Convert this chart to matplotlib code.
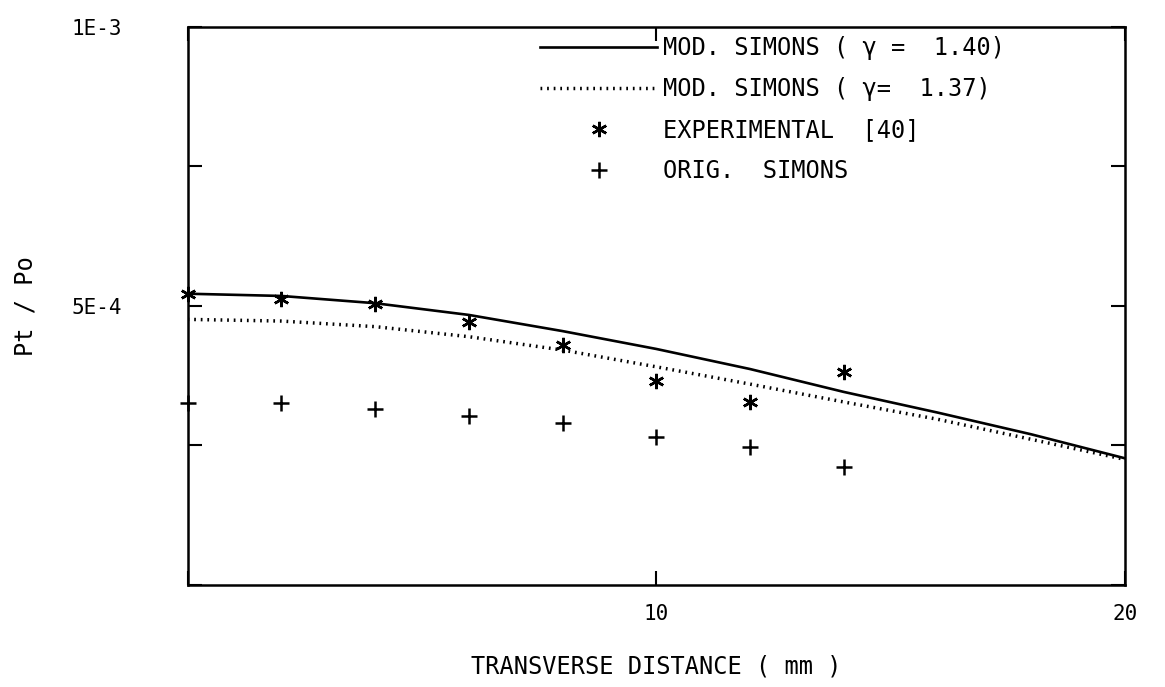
import numpy as np
import matplotlib
matplotlib.use("Agg")
import matplotlib.pyplot as plt

# distancia transversal (mm)
x_curva = [0, 2, 4, 6, 8, 10, 12, 14, 16, 18, 20]
mod_140 = [5.22e-4, 5.18e-4, 5.05e-4, 4.84e-4, 4.55e-4, 4.23e-4, 3.87e-4, 3.46e-4, 3.09e-4, 2.70e-4, 2.27e-4]
mod_137 = [4.76e-4, 4.73e-4, 4.63e-4, 4.45e-4, 4.21e-4, 3.91e-4, 3.60e-4, 3.28e-4, 2.97e-4, 2.61e-4, 2.25e-4]

x_pontos = [0, 2, 4, 6, 8, 10, 12, 14]
experimental = [5.22e-4, 5.12e-4, 5.03e-4, 4.72e-4, 4.30e-4, 3.66e-4, 3.28e-4, 3.82e-4]
orig_simons = [3.27e-4, 3.26e-4, 3.15e-4, 3.03e-4, 2.90e-4, 2.65e-4, 2.48e-4, 2.11e-4]

xticks = [0, 10, 20]
xticklabels = ['', '10', '20']
yticks = [0, 2.5e-4, 5e-4, 7.5e-4, 1e-3]
yticklabels = ['', '', '5E-4', '', '1E-3']

fonte = 'DejaVu Sans Mono'
plt.rcParams['font.family'] = fonte

fig = plt.figure(figsize=(11.65, 6.87), dpi=100)
ax = fig.add_axes([0.161, 0.1485, 0.8047, 0.8122])

ax.plot(x_curva, mod_140, color='black', linewidth=1.9,
        label='MOD. SIMONS ( \u03b3 =  1.40)')
ax.plot(x_curva, mod_137, color='black', linewidth=2.5, linestyle=(0, (0.5, 1.4)),
        label='MOD. SIMONS ( \u03b3=  1.37)')
ax.plot(x_pontos, experimental, linestyle='none', marker=(6, 2, 0), markersize=11,
        markeredgewidth=1.8, color='black', label='EXPERIMENTAL  [40]', clip_on=False)
ax.plot(x_pontos, orig_simons, linestyle='none', marker='+', markersize=11,
        markeredgewidth=1.8, color='black', label='ORIG.  SIMONS', clip_on=False)

ax.set_xlim(0, 20)
ax.set_ylim(0, 1e-3)
ax.set_xticks(xticks)
ax.set_xticklabels(xticklabels, fontsize=15)
ax.set_yticks(yticks)
ax.set_yticklabels(yticklabels, fontsize=15)
ax.tick_params(axis='y', direction='in', length=10, width=1.5, right=True, pad=47)
ax.tick_params(axis='x', direction='in', length=10, width=1.5, top=True, pad=14)

for s in ax.spines.values():
    s.set_linewidth(1.8)

ax.set_xlabel('TRANSVERSE DISTANCE ( mm )', fontsize=17, labelpad=22)
ax.set_ylabel('Pt / Po', fontsize=17)
ax.yaxis.set_label_coords(-0.16, 0.5)

ax.legend(loc='upper right', bbox_to_anchor=(0.882, 1.0), frameon=False, fontsize=17,
          handlelength=4.95, handletextpad=0.25, labelspacing=0.72, borderaxespad=0.0)

fig.savefig('out.png', dpi=100)
